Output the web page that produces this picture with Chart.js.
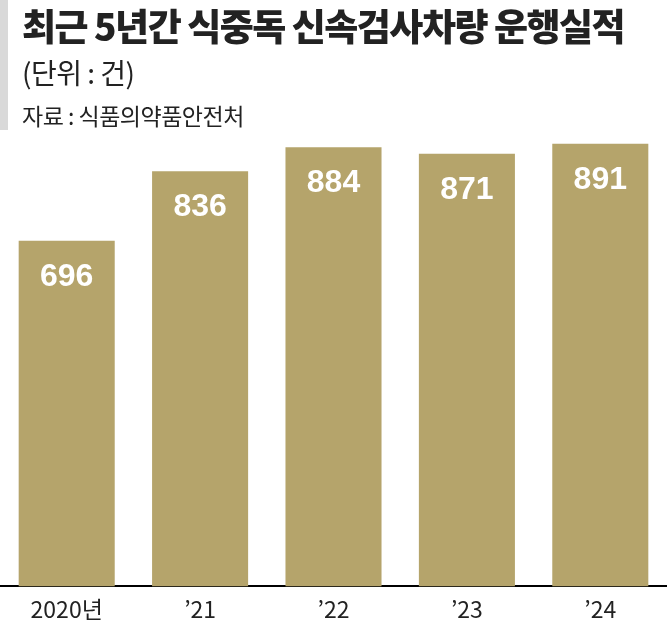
<!DOCTYPE html>
<html><head><meta charset="utf-8">
<script src="https://cdn.jsdelivr.net/npm/chart.js@4"></script>
<style>
body{margin:0;background:#fff;font-family:"Noto Sans CJK KR",sans-serif;}
#wrap{position:relative;width:667px;height:632px;}
#bar{position:absolute;left:0;top:0;width:8px;height:130px;background:#d9d9d9;}
.t{position:absolute;left:22px;color:#222;white-space:nowrap;}
#t1{top:-2px;font-size:37px;font-weight:900;letter-spacing:-1.5px;}
#t2{top:52px;font-size:28px;letter-spacing:-0.5px;}
#t3{top:98px;font-size:23px;letter-spacing:-0.5px;}
canvas{position:absolute;left:0;top:0;}
</style></head><body>
<div id="wrap">
<canvas id="c" width="667" height="632"></canvas>
<div id="bar"></div>
<div class="t" id="t1">최근 5년간 식중독 신속검사차량 운행실적</div>
<div class="t" id="t2">(단위 : 건)</div>
<div class="t" id="t3">자료 : 식품의약품안전처</div>
</div>
<script>
const categories=["2020년","’21","’22","’23","’24"];
const values=[696,836,884,871,891];
const labelPlugin={id:"lbl",afterDatasetsDraw(ch){const ctx=ch.ctx;const m=ch.getDatasetMeta(0);ctx.save();ctx.fillStyle="#fff";ctx.font="bold 32px 'Liberation Sans Narrow','Liberation Sans',Arial";ctx.textAlign="center";ctx.textBaseline="middle";m.data.forEach((b,i)=>{ctx.fillText(values[i],b.x,b.y+36);});ctx.restore();}};
new Chart(document.getElementById("c"),{type:"bar",
data:{labels:categories,datasets:[{data:values,backgroundColor:"#b5a46b",barPercentage:1,categoryPercentage:0.72}]},
options:{responsive:false,animation:false,events:[],
layout:{padding:{top:122,left:0,right:0,bottom:0}},
plugins:{legend:{display:false},tooltip:{enabled:false}},
scales:{y:{display:false,min:0,max:935},
x:{grid:{display:false,drawTicks:false},border:{color:"#000",width:2},ticks:{color:"#222",padding:9,font:{size:23,family:"'Noto Sans CJK KR'"}}}}},
plugins:[labelPlugin]});
</script></body></html>
